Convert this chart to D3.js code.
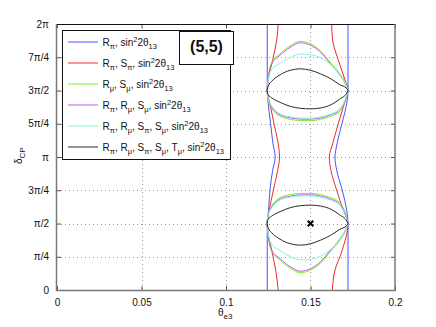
<!DOCTYPE html>
<html>
<head>
<meta charset="utf-8">
<script src="https://cdn.jsdelivr.net/npm/d3@7"></script>
<style>
  body { margin: 0; background: #fff; }
  svg { display: block; font-family: "Liberation Sans", Arial, sans-serif; }
</style>
</head>
<body>
<div id="root"></div>
<script>
// axis ticks (delta in units of pi)
const xTicks = [0, 0.05, 0.1, 0.15, 0.2]
const xTickLabels = ["0", "0.05", "0.1", "0.15", "0.2"]
const yTicks = [0, 0.25, 0.5, 0.75, 1, 1.25, 1.5, 1.75, 2]
const yTickLabels = ["0", "π/4", "π/2", "3π/4", "π", "5π/4", "3π/2", "7π/4", "2π"]

const legendLabels = [
	"R_{π}, sin^{2}2θ_{13}",
	"R_{π}, S_{π}, sin^{2}2θ_{13}",
	"R_{μ}, S_{μ}, sin^{2}2θ_{13}",
	"R_{π}, R_{μ}, S_{μ}, sin^{2}2θ_{13}",
	"R_{π}, R_{μ}, S_{π}, S_{μ}, sin^{2}2θ_{13}",
	"R_{π}, R_{μ}, S_{π}, S_{μ}, T_{μ}, sin^{2}2θ_{13}",
]
const COLOR = ["#4455ff", "#f02a2a", "#7ff01e", "#b85cf5", "#86f5dc", "#2a2a2a"]

// R_pi and R_pi,S_pi : left / right boundaries as theta against delta
const blueDelta = [0, 0.5, 0.6, 0.75, 0.9, 1.0, 1.1, 1.25, 1.4, 1.5, 2.0]
const blueLeft = [0.1244, 0.1244, 0.1252, 0.1260, 0.1276, 0.1291, 0.1278, 0.1264, 0.1250, 0.1244, 0.1244]
const blueRight = [0.1722, 0.1722, 0.1714, 0.1688, 0.1655, 0.1645, 0.1657, 0.1686, 0.1714, 0.1722, 0.1722]

const redDelta = [0, 0.15, 0.3, 0.5, 0.6, 0.75, 0.9, 1.0, 1.1, 1.25, 1.4, 1.5, 1.58, 1.73, 1.88, 2.0]
const redLeft = [0.1309, 0.1294, 0.1270, 0.1243, 0.1256, 0.1280, 0.1306, 0.1317, 0.1309, 0.1284, 0.1260, 0.1243, 0.1249, 0.1276, 0.1300, 0.1309]
const redRight = [0.1629, 0.1645, 0.1688, 0.1722, 0.1694, 0.1655, 0.1621, 0.1611, 0.1631, 0.1664, 0.1700, 0.1722, 0.1704, 0.1664, 0.1631, 0.1625]

// closed islands: theta grid shared, delta of each edge
const thetaGrid = [0.1243, 0.1250, 0.127, 0.132, 0.138, 0.144, 0.150, 0.156, 0.162, 0.167, 0.1715, 0.1722]

// each: upper island top edge, upper bottom edge, lower top edge, lower bottom edge
const greenDelta = [
	[1.5, 1.595, 1.708, 1.776, 1.836, 1.870, 1.851, 1.798, 1.708, 1.633, 1.530, 1.5],
	[1.5, 1.422, 1.369, 1.305, 1.283, 1.274, 1.273, 1.283, 1.305, 1.339, 1.462, 1.5],
	[0.5, 0.578, 0.631, 0.695, 0.717, 0.726, 0.727, 0.717, 0.695, 0.661, 0.538, 0.5],
	[0.5, 0.405, 0.292, 0.224, 0.164, 0.130, 0.149, 0.202, 0.292, 0.367, 0.470, 0.5],
]
const purpleDelta = [
	[1.5, 1.588, 1.697, 1.765, 1.825, 1.859, 1.840, 1.787, 1.697, 1.622, 1.525, 1.5],
	[1.5, 1.430, 1.377, 1.317, 1.294, 1.285, 1.284, 1.294, 1.317, 1.351, 1.465, 1.5],
	[0.5, 0.570, 0.623, 0.683, 0.706, 0.715, 0.716, 0.706, 0.683, 0.649, 0.535, 0.5],
	[0.5, 0.412, 0.303, 0.235, 0.175, 0.141, 0.160, 0.213, 0.303, 0.378, 0.475, 0.5],
]
const cyanDelta = [
	[1.5, 1.580, 1.655, 1.704, 1.749, 1.774, 1.768, 1.746, 1.693, 1.625, 1.525, 1.5],
	[1.5, 1.433, 1.384, 1.324, 1.302, 1.293, 1.292, 1.302, 1.324, 1.358, 1.468, 1.5],
	[0.5, 0.567, 0.616, 0.676, 0.698, 0.707, 0.708, 0.698, 0.676, 0.642, 0.532, 0.5],
	[0.5, 0.420, 0.345, 0.296, 0.251, 0.226, 0.232, 0.254, 0.307, 0.375, 0.475, 0.5],
]
const blackDelta = [
	[1.5, 1.535, 1.569, 1.618, 1.652, 1.663, 1.652, 1.625, 1.588, 1.546, 1.515, 1.5],
	[1.5, 1.467, 1.445, 1.411, 1.381, 1.366, 1.362, 1.369, 1.392, 1.433, 1.482, 1.5],
	[0.5, 0.533, 0.555, 0.589, 0.619, 0.634, 0.638, 0.631, 0.608, 0.567, 0.518, 0.5],
	[0.5, 0.465, 0.431, 0.382, 0.348, 0.337, 0.348, 0.375, 0.412, 0.454, 0.485, 0.5],
]

// true point
const truePoint = [0.15, 0.5]

const width = 436, height = 327
const mLeft = 57, mRight = 395, mTop = 24, mBottom = 290

const x = d3.scaleLinear().domain([0, 0.2]).range([mLeft, mRight])
const y = d3.scaleLinear().domain([0, 2]).range([mBottom, mTop])

const svg = d3.select('#root')
	.append('svg')
	.attr('width', width)
	.attr('height', height)

// grid
const grid = svg.append('g').attr('class', 'grid')
grid.selectAll('.gx')
	.data(xTicks.slice(1, -1))
	.enter().append('line')
	.attr('x1', d => Math.round(x(d)) + 0.5)
	.attr('x2', d => Math.round(x(d)) + 0.5)
	.attr('y1', mTop).attr('y2', mBottom)
grid.selectAll('.gy')
	.data(yTicks.slice(1, -1))
	.enter().append('line')
	.attr('y1', d => Math.round(y(d)) + 0.5)
	.attr('y2', d => Math.round(y(d)) + 0.5)
	.attr('x1', mLeft).attr('x2', mRight)
grid.selectAll('line')
	.attr('stroke', '#9a9a9a')
	.attr('stroke-width', 1)
	.attr('stroke-dasharray', '1,3')

// axes with inward ticks
svg.append('g')
	.attr('transform', `translate(0,${mBottom})`)
	.call(d3.axisBottom(x).tickValues(xTicks).tickFormat((d, i) => xTickLabels[i]).tickSizeInner(-4).tickSizeOuter(0).tickPadding(9))
svg.append('g')
	.attr('transform', `translate(${mLeft},0)`)
	.call(d3.axisLeft(y).tickValues(yTicks).tickFormat((d, i) => yTickLabels[i]).tickSizeInner(-4).tickSizeOuter(0).tickPadding(8))
svg.append('g')
	.attr('transform', `translate(0,${mTop})`)
	.call(d3.axisTop(x).tickValues(xTicks).tickFormat('').tickSizeInner(-4).tickSizeOuter(0))
svg.append('g')
	.attr('transform', `translate(${mRight},0)`)
	.call(d3.axisRight(y).tickValues(yTicks).tickFormat('').tickSizeInner(-4).tickSizeOuter(0))

svg.selectAll('.domain').remove()
svg.selectAll('.tick line').attr('stroke', '#555')
svg.selectAll('.tick text')
	.attr('fill', '#111')
	.style('font-size', '10px')
	.style('font-family', '"Liberation Sans", Arial, sans-serif')

// curves
const plot = svg.append('g')
const vLine = d3.line()
	.x(d => x(d[1]))
	.y(d => y(d[0]))
	.curve(d3.curveMonotoneY)
const hLine = d3.line()
	.x(d => x(d[0]))
	.y(d => y(d[1]))
	.curve(d3.curveMonotoneX)

const drawV = (deltas, thetas, color) => {
	plot.append('path')
		.attr('d', vLine(deltas.map((d, i) => [d, thetas[i]])))
		.attr('fill', 'none')
		.attr('stroke', color)
		.attr('stroke-width', 1)
}
drawV(blueDelta, blueLeft, COLOR[0])
drawV(blueDelta, blueRight, COLOR[0])
drawV(redDelta, redLeft, COLOR[1])
drawV(redDelta, redRight, COLOR[1])

const islands = [greenDelta, purpleDelta, cyanDelta, blackDelta]
islands.forEach((edges, k) => {
	edges.forEach(edge => {
		plot.append('path')
			.attr('d', hLine(thetaGrid.map((t, i) => [t, edge[i]])))
			.attr('fill', 'none')
			.attr('stroke', COLOR[k + 2])
			.attr('stroke-width', 1)
	})
})

plot.append('path')
	.attr('d', d3.symbol(d3.symbolX, 22)())
	.attr('transform', `translate(${x(truePoint[0])},${y(truePoint[1])})`)
	.attr('stroke', '#000')
	.attr('stroke-width', 2)

// frame
svg.append('line').attr('x1', mLeft).attr('x2', mRight).attr('y1', mTop + 0.5).attr('y2', mTop + 0.5).attr('stroke', '#111')
svg.append('line').attr('x1', mLeft - 0.5).attr('x2', mLeft - 0.5).attr('y1', mTop).attr('y2', mBottom + 1).attr('stroke', '#7a7a7a').attr('stroke-width', 1.5)
svg.append('line').attr('x1', mRight).attr('x2', mRight).attr('y1', mTop).attr('y2', mBottom + 1).attr('stroke', '#7a7a7a').attr('stroke-width', 1.5)
svg.append('line').attr('x1', mLeft - 1).attr('x2', mRight + 1).attr('y1', mBottom + 0.5).attr('y2', mBottom + 0.5).attr('stroke', '#7a7a7a').attr('stroke-width', 1.5)

// rich text: R_{π}, sin^{2}...
function richText(sel, str, small) {
	const parts = str.split(/([_^]\{[^}]*\})/).filter(s => s)
	let shift = 0
	parts.forEach(p => {
		let target = 0, content = p
		if (p[0] === '_') { target = 3; content = p.slice(2, -1) }
		else if (p[0] === '^') { target = -4; content = p.slice(2, -1) }
		sel.append('tspan')
			.attr('dy', target - shift)
			.style('font-size', target ? small : null)
			.text(content)
		shift = target
	})
}

// legend
const legend = svg.append('g')
legend.append('rect')
	.attr('x', 62.5).attr('y', 30.5)
	.attr('width', 168).attr('height', 129)
	.attr('fill', '#fff')
	.attr('stroke', '#111')

legendLabels.forEach((label, i) => {
	const ly = 42 + i * 21
	legend.append('line')
		.attr('x1', 68).attr('x2', 98)
		.attr('y1', ly).attr('y2', ly)
		.attr('stroke', COLOR[i])
		.attr('stroke-width', 1)
	const t = legend.append('text')
		.attr('x', 102.5)
		.attr('y', ly + 4)
		.style('font-size', '10px')
		.attr('fill', '#111')
	richText(t, label, '7.5px')
})

// (5,5) label box
svg.append('rect')
	.attr('x', 179.5).attr('y', 31.5)
	.attr('width', 54).attr('height', 33)
	.attr('fill', '#fff')
	.attr('stroke', '#111')
svg.append('text')
	.attr('x', 206.5).attr('y', 52)
	.attr('text-anchor', 'middle')
	.style('font-size', '16px')
	.style('font-weight', 'bold')
	.attr('fill', '#111')
	.text('(5,5)')

// axis titles
const xt = svg.append('text')
	.attr('x', 218).attr('y', 316)
	.style('font-size', '10px')
	.attr('fill', '#111')
richText(xt, 'θ_{e3}', '8px')

const yt = svg.append('text')
	.attr('transform', 'translate(22,164) rotate(-90)')
	.style('font-size', '10px')
	.attr('fill', '#111')
richText(yt, 'δ_{CP}', '8px')
</script>
</body>
</html>
